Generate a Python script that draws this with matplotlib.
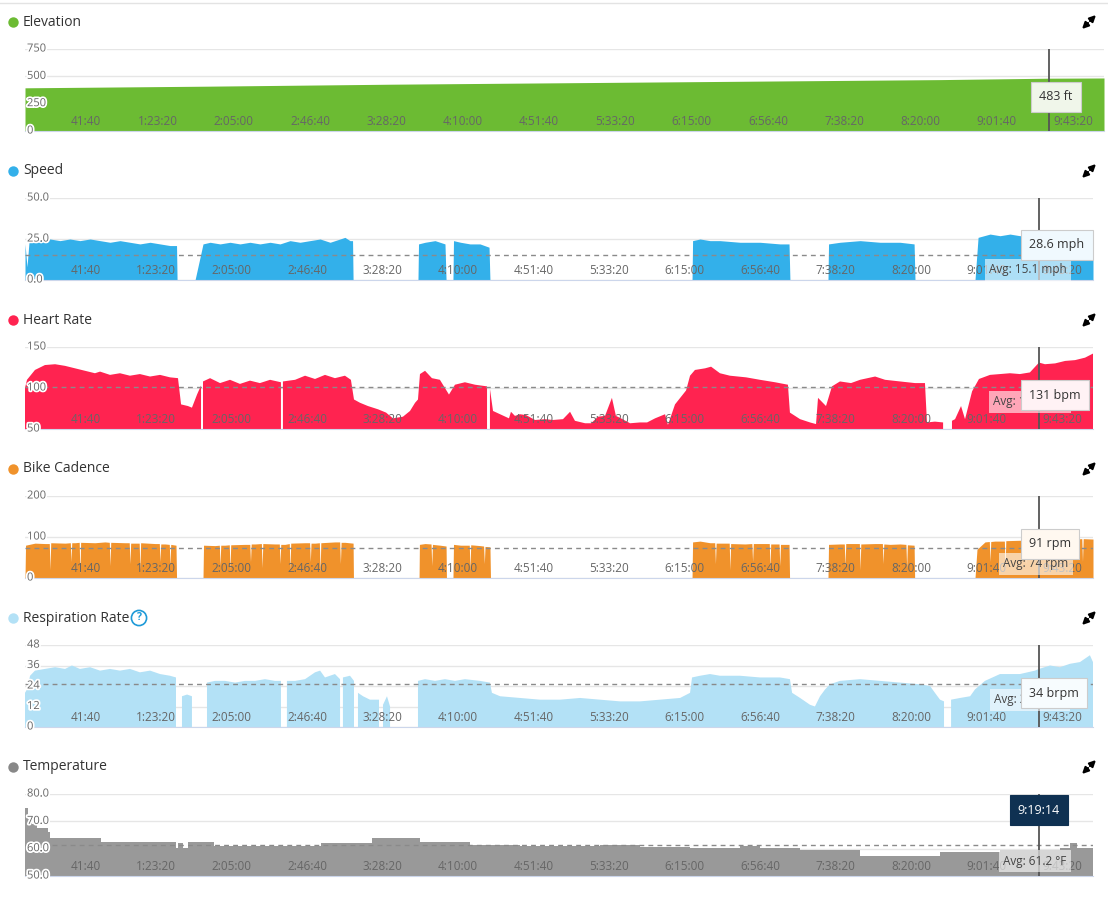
import matplotlib
matplotlib.use('Agg')
import numpy as np
import matplotlib.pyplot as plt
import matplotlib.patheffects as pe
from matplotlib.lines import Line2D
from matplotlib.patches import FancyArrowPatch
from matplotlib.transforms import IdentityTransform

plt.rcParams['font.family'] = ['Open Sans', 'DejaVu Sans']

# elapsed time in minutes
elev_t = [0.0, 100.0, 200.0, 300.0, 400.0, 500.0, 559.2, 589.2]
elev_v = [395, 410, 428, 442, 456, 470, 483, 485]

speed_t = [0.0, 1.1, 2.2, 8.3, 13.8, 19.3, 24.8, 30.3, 35.9, 41.4, 46.9, 52.4, 57.9, 63.4, 69.0,
           74.5, 80.0, 83.6, 83.9, 93.8, 98.2, 102.1, 107.6, 113.1, 118.6, 124.1, 129.6, 135.2,
           140.7, 146.2, 151.7, 157.2, 162.8, 168.3, 173.8, 176.5, 179.3, 180.7, 181.0,
           216.8, 217.1, 220.7, 226.2, 231.7, 232.3, 236.1, 236.4, 240.3, 245.5, 251.0, 256.0, 256.5,
           368.0, 368.3, 372.4, 377.9, 383.4, 394.5, 405.5, 416.5, 421.5, 422.0,
           443.0, 443.3, 449.6, 460.7, 471.7, 482.7, 490.5, 491.0,
           524.1, 525.8, 532.4, 537.9, 543.4, 548.9, 554.4, 559.4, 565.5, 576.5, 588.6, 589.2]
speed_v = [22, 8, 23, 24, 25, 24, 25, 24, 25, 24, 23, 24, 23, 22, 23,
           22, 21, 21, 0, 0, 22, 23, 22, 23, 22, 23, 22, 23,
           22, 24, 23, 24, 25, 23, 25, 26, 24, 24, 0,
           0, 22, 23, 24, 22, 0, 0, 24, 23, 22, 22, 20, 0,
           0, 24, 25, 24, 24, 23, 23, 22, 22, 0,
           0, 22, 23, 24, 23, 23, 22, 0,
           0, 26, 28, 27, 28, 27, 28, 28.6, 28, 28, 27, 27]

hr_t = [0.0, 1.1, 5.5, 11.0, 16.6, 22.1, 27.6, 33.1, 38.6, 41.4, 46.9, 52.4, 57.9, 63.4, 69.0,
        74.5, 80.0, 84.4, 86.1, 89.9, 92.1, 94.9, 97.1, 97.7, 98.2, 102.1, 107.6, 113.1, 118.6,
        124.1, 129.6, 135.2, 141.2, 141.8, 142.3, 149.0, 154.5, 160.0, 165.5, 171.0, 176.5, 179.8,
        181.5, 184.8, 189.2, 194.8, 199.2, 203.0, 208.5, 212.4, 215.2, 216.8, 217.9, 220.7, 224.5,
        228.9, 233.9, 237.2, 242.7, 248.3, 254.9, 255.4, 256.5, 258.2, 262.1, 267.0, 268.1, 270.3,
        273.1, 276.4, 281.4, 286.9, 291.3, 296.8, 300.7, 303.4, 309.0, 312.3, 316.1, 320.0, 323.8,
        326.0, 328.8, 333.8, 339.3, 343.2, 347.6, 353.1, 354.7, 358.6, 364.7, 366.9, 369.6, 375.2,
        378.5, 383.4, 388.9, 397.8, 405.5, 413.8, 420.9, 422.0, 427.6, 433.1, 436.4, 437.5, 441.9,
        445.2, 449.6, 455.7, 460.7, 469.0, 474.5, 482.7, 491.0, 496.5, 497.6, 502.0, 506.5, 507.0,
        511.4, 513.1, 516.4, 518.6, 522.5, 526.3, 532.4, 537.9, 543.4, 548.9, 554.4, 559.4, 562.7,
        568.3, 573.8, 579.3, 584.8, 589.2]
hr_v = [100, 110, 122, 128, 129, 127, 124, 121, 118, 120, 116, 118, 115, 117, 114,
        116, 113, 112, 80, 78, 76, 92, 103, np.nan, 108, 112, 106, 110, 105,
        109, 106, 110, 107, np.nan, 108, 110, 115, 111, 116, 112, 115, 110,
        86, 82, 78, 74, 70, 63, 65, 72, 82, 86, 117, 121, 112,
        110, 92, 104, 107, 104, 102, np.nan, 99, 72, 68, 63, 71, 66,
        68, 67, 61, 62, 61, 62, 71, 60, 57, 57, 65, 66, 88,
        66, 63, 57, 58, 58, 63, 68, 55, 80, 97, 115, 122, 124,
        126, 118, 115, 113, 110, 107, 104, 70, 62, 58, 56, 88, 78,
        102, 108, 106, 110, 114, 110, 108, 106, 106, 58, 59, 58, np.nan,
        60, 62, 78, 62, 96, 111, 116, 117, 118, 117, 119, 131, 129,
        130, 133, 134, 137, 142]

# cadence blocks with the short pedalling pauses that show as thin white streaks
cad_t = [0.0, 0.3, 5.5, 11.0, 13.4, 13.8, 14.2, 22.1, 25.0, 25.4, 25.8, 27.6, 29.9, 30.3, 30.7,
         38.6, 44.1, 46.5, 46.9, 47.3, 55.2, 57.5, 57.9, 58.3, 60.7, 63.0, 63.4, 63.8, 71.7,
         74.1, 74.5, 74.9, 77.2, 79.6, 80.0, 80.4, 83.3, 83.6,
         98.2, 98.5, 104.8, 107.2, 107.6, 108.0, 110.3, 112.7, 113.1, 113.5, 121.4, 124.0, 124.4,
         124.8, 126.9, 130.4, 130.8, 131.2, 137.9, 140.3, 140.7, 141.1, 143.4, 145.8, 146.2, 146.6,
         154.5, 157.0, 157.4, 157.8, 160.0, 162.4, 162.8, 163.2, 171.0, 173.6, 174.0, 174.4, 176.5,
         181.0, 181.2,
         217.4, 217.6, 220.7, 224.0, 224.4, 224.8, 229.0, 232.3, 232.5,
         236.1, 236.4, 240.3, 245.1, 245.5, 245.9, 251.0, 253.0, 253.4, 253.8, 256.5, 256.8,
         368.0, 368.3, 372.4, 377.9, 380.5, 380.9, 381.3, 383.4, 388.5, 388.9, 389.3, 397.2, 401.0,
         401.4, 401.8, 405.5, 410.6, 411.0, 411.4, 416.0, 416.4, 416.8, 421.5, 421.8,
         443.0, 443.3, 449.6, 452.0, 452.4, 452.8, 455.2, 460.3, 460.7, 461.1, 469.0, 473.0, 473.4,
         473.8, 477.2, 482.7, 486.0, 486.4, 486.8, 490.5, 490.8,
         524.1, 525.2, 529.6, 532.0, 532.4, 532.8, 535.1, 540.3, 540.7, 541.1, 548.9, 552.0, 552.4,
         552.8, 554.4, 559.4, 565.5, 570.6, 571.0, 571.4, 579.3, 583.0, 583.4, 583.8, 589.2]
cad_v = [0, 80, 85, 84, 84, 20, 86, 85, 86, 40, 86, 86, 87, 10, 87,
         86, 88, 87, 30, 87, 86, 86, 35, 85, 85, 85, 20, 86, 84,
         84, 40, 83, 83, 82, 30, 82, 80, 0,
         0, 80, 79, 80, 30, 80, 80, 81, 20, 81, 82, 82, 40,
         83, 83, 84, 25, 84, 83, 83, 35, 82, 82, 84, 20, 85,
         86, 86, 40, 85, 85, 86, 15, 86, 88, 88, 35, 87, 87,
         85, 0,
         0, 82, 84, 83, 30, 82, 80, 78, 0,
         0, 82, 80, 80, 20, 81, 79, 78, 35, 77, 76, 0,
         0, 88, 90, 86, 86, 35, 85, 85, 85, 20, 84, 83, 84,
         40, 84, 84, 84, 25, 83, 83, 30, 82, 82, 0,
         0, 82, 83, 83, 30, 84, 84, 84, 20, 83, 84, 84, 35,
         83, 82, 83, 82, 25, 81, 80, 0,
         0, 70, 88, 89, 40, 89, 90, 90, 20, 91, 92, 92, 35,
         93, 93, 91, 94, 94, 30, 93, 95, 96, 40, 96, 95]

resp_t = [0.0, 1.1, 2.8, 5.5, 11.0, 16.6, 22.1, 25.9, 30.3, 35.9, 41.4, 46.9, 52.4, 57.9, 63.4,
          69.0, 74.5, 80.0, 83.3, 83.9, 86.6, 89.4, 92.1, 92.7, 100.4, 104.8, 110.3, 115.9, 121.4,
          126.9, 132.4, 137.9, 141.2, 141.8, 142.3, 143.4, 144.5, 149.0, 154.5, 160.0, 162.8, 165.5,
          171.0, 173.8, 174.3, 175.4, 179.3, 181.5, 182.1, 183.7, 186.5, 190.3, 195.3, 195.9, 197.5,
          199.7, 201.4, 201.9, 216.8, 220.7, 226.2, 231.7, 237.2, 242.7, 251.0, 256.5, 257.6, 262.1,
          273.1, 284.1, 295.2, 306.2, 317.2, 328.3, 339.3, 350.3, 361.4, 366.9, 368.0, 372.4, 377.9,
          383.4, 394.5, 405.5, 416.5, 422.0, 423.2, 427.6, 433.1, 435.8, 438.6, 441.4, 444.1, 449.6,
          460.7, 471.7, 482.7, 493.8, 499.3, 502.0, 504.8, 507.0, 507.6, 510.9, 515.9, 521.4, 524.1,
          529.6, 537.9, 548.9, 557.2, 559.4, 565.5, 571.0, 576.5, 582.0, 587.5, 589.2]
resp_v = [20, 22, 30, 33, 34, 35, 34, 36, 34, 35, 33, 34, 33, 34, 32,
          33, 31, 30, 29, np.nan, 18, 19, 18, np.nan, 26, 27, 27, 26, 27,
          27, 28, 27, 27, np.nan, 26, np.nan, 27, 27, 28, 32, 33, 29,
          31, 28, np.nan, 29, 30, 27, np.nan, 20, 18, 16, 16, np.nan, 13,
          18, 12, np.nan, 27, 28, 27, 28, 27, 28, 27, 26, 20, 18,
          17, 16, 16, 17, 16, 15, 15, 16, 17, 20, 29, 30, 31,
          30, 30, 29, 29, 28, 20, 17, 13, 12, 18, 22, 25, 27,
          28, 27, 26, 25, 24, 20, 16, 15, np.nan, 16, 17, 18, 22,
          27, 31, 31, 33, 34, 36, 35, 37, 38, 42, 38]

# temperature is logged in steps: value holds until the next change
temp_t = [0.0, 1.7, 3.9, 6.6, 12.7, 13.8, 41.9, 83.3, 84.4, 87.2, 89.9, 104.3, 163.3, 191.4,
          217.9, 245.5, 273.1, 317.2, 339.3, 366.9, 394.5, 405.5, 427.6, 460.7, 504.8, 537.9,
          571.0, 576.5, 580.4, 589.2]
temp_v = [75, 71, 69, 67.5, 66, 64, 62.5, 60.4, 62.2, 60.4, 62.5, 60.8, 62.2, 64,
          62.5, 61.5, 60.8, 61.5, 60.5, 60.2, 60.8, 60.2, 59.5, 57.3, 58.9, 59.5,
          60.2, 62, 60.2, 60.2]

total_min = 589.2
cursor_min = 559.23   # 9:19:14
tick_step = 41 + 40 / 60

W, H = 1108, 900
fig = plt.figure(figsize=(W / 100, H / 100), dpi=100)
fig.patch.set_facecolor('white')


def hms(m):
    s = int(round(m * 60))
    h, mm, ss = s // 3600, (s % 3600) // 60, s % 60
    return f"{h}:{mm:02d}:{ss:02d}" if h else f"{mm}:{ss:02d}"


panels = [
    dict(title='Elevation', color='#6cbb33', t=elev_t, v=elev_v, ylim=(0, 750),
         ticks=[0, 250, 500, 750], tfmt='{:.0f}', avg=None, right=1104, top=49,
         tip='483 ft', tip_xy=(1056, 97), tip_bg='#f0f6ea', avgtxt=None),
    dict(title='Speed', color='#33b0ea', t=speed_t, v=speed_v, ylim=(0, 50),
         ticks=[0, 25, 50], tfmt='{:.1f}', avg=15.1, right=1093, top=198,
         tip='28.6 mph', tip_xy=(1057, 245), tip_bg='#f0f9fe',
         avgtxt='Avg: 15.1 mph', avg_xy=(1028, 270)),
    dict(title='Heart Rate', color='#ff2350', t=hr_t, v=hr_v, ylim=(50, 150),
         ticks=[50, 100, 150], tfmt='{:.0f}', avg=101, right=1093, top=347,
         tip='131 bpm', tip_xy=(1055, 395), tip_bg='#fff2f5',
         avgtxt='Avg: 101 bpm', avg_xy=(1030, 402)),
    dict(title='Bike Cadence', color='#f0922b', t=cad_t, v=cad_v, ylim=(0, 200),
         ticks=[0, 100, 200], tfmt='{:.0f}', avg=74, right=1093, top=496,
         tip='91 rpm', tip_xy=(1050, 544), tip_bg='#fff8f0',
         avgtxt='Avg: 74 rpm', avg_xy=(1036, 564)),
    dict(title='Respiration Rate', color='#b3e1f6', t=resp_t, v=resp_v, ylim=(0, 48),
         ticks=[0, 12, 24, 36, 48], tfmt='{:.0f}', avg=25, right=1093, top=645,
         tip='34 brpm', tip_xy=(1054, 693), tip_bg='#f7fcfe',
         avgtxt='Avg: 25 brpm', avg_xy=(1030, 700)),
    dict(title='Temperature', color='#999999', t=temp_t, v=temp_v, ylim=(50, 80),
         ticks=[50, 60, 70, 80], tfmt='{:.1f}', avg=61.2, right=1093, top=794,
         tip='9:19:14', tip_xy=(1039, 810), tip_bg='#0f3152',
         avgtxt='Avg: 61.2 °F', avg_xy=(1035, 861), step=True, dot='#888888'),
]

left, height = 25, 82
halo = [pe.withStroke(linewidth=2.5, foreground='white')]

for p in panels:
    top = p['top']
    ax = fig.add_axes([left / W, 1 - (top + height) / H, (p['right'] - left) / W, height / H])
    y0, y1 = p['ylim']
    kw = dict(step='post') if p.get('step') else {}
    ax.fill_between(p['t'], p['v'], y0, color=p['color'], lw=0, **kw)
    ax.set_xlim(0, total_min)
    ax.set_ylim(y0, y1)
    ax.set_yticks(p['ticks'])
    ax.grid(axis='y', color='#e6e6e6', lw=1, zorder=0)
    ax.set_axisbelow(True)
    ax.tick_params(left=False, bottom=False, labelleft=False, labelbottom=False)
    for s in ['top', 'left', 'right']:
        ax.spines[s].set_visible(False)
    ax.spines['bottom'].set_color('#ccd6eb')

    if p['avg'] is not None:
        ax.axhline(p['avg'], color='#8a8a8a', lw=1, ls=(0, (3.5, 3)), zorder=3)
    ax.axvline(cursor_min, color='#555555', lw=1.3, zorder=4)

    # y labels sit inside the plot with a white halo
    for tk in p['ticks']:
        ax.annotate(p['tfmt'].format(tk), xy=(0, tk), xycoords=('axes fraction', 'data'),
                    xytext=(2, 0), textcoords='offset pixels', ha='left', va='center',
                    fontsize=8, color='#666666', path_effects=halo, zorder=6)
    # time labels are right-aligned at their tick, along the bottom
    k = 1
    while k * tick_step < total_min:
        ax.annotate(hms(k * tick_step), xy=(k * tick_step, 0),
                    xycoords=('data', 'axes fraction'), xytext=(0, 3),
                    textcoords='offset pixels', ha='right', va='bottom',
                    fontsize=8.5, color='#666666', zorder=6)
        k += 1

    # title row
    ty = 1 - (top - 27) / H
    fig.add_artist(Line2D([13 / W], [ty], marker='o', ms=7.5, color=p.get('dot', p['color']),
                          mec='none'))
    fig.text(23 / W, ty, p['title'], fontsize=10, color='#333333', va='center', ha='left')

    # expand icon: two arrows pointing to opposite corners
    cx, cy = 1089, H - (top - 27)
    for dx, dy in [(1, 1), (-1, -1)]:
        fig.add_artist(FancyArrowPatch((cx + dx * 1, cy + dy * 1), (cx + dx * 7, cy + dy * 7),
                                       arrowstyle='-|>', mutation_scale=9, lw=1.6,
                                       shrinkA=0, shrinkB=0,
                                       color='black', transform=IdentityTransform()))

    # average label and hover tooltip
    if p['avgtxt']:
        fig.text(p['avg_xy'][0] / W, 1 - p['avg_xy'][1] / H, p['avgtxt'], fontsize=8.5,
                 color='#444444', ha='center', va='center', zorder=5,
                 bbox=dict(boxstyle='square,pad=0.35', fc='white', ec='none', alpha=0.6))
    dark = p['title'] == 'Temperature'
    fig.text(p['tip_xy'][0] / W, 1 - p['tip_xy'][1] / H, p['tip'], fontsize=9,
             color='white' if dark else '#333333', ha='center', va='center', zorder=7,
             bbox=dict(boxstyle='square,pad=0.65', fc=p['tip_bg'],
                       ec=p['tip_bg'] if dark else '#cccccc', lw=0.8))

    if p['title'] == 'Respiration Rate':
        fig.text(139 / W, ty, '?', fontsize=7.5, fontweight='bold', color='#1e9ad8',
                 ha='center', va='center',
                 bbox=dict(boxstyle='circle,pad=0.2', fc='white', ec='#1e9ad8', lw=1.2))

fig.add_artist(Line2D([0, 1], [1 - 3 / H] * 2, color='#e3e3e3', lw=1))

fig.savefig('out.png', dpi=100)
